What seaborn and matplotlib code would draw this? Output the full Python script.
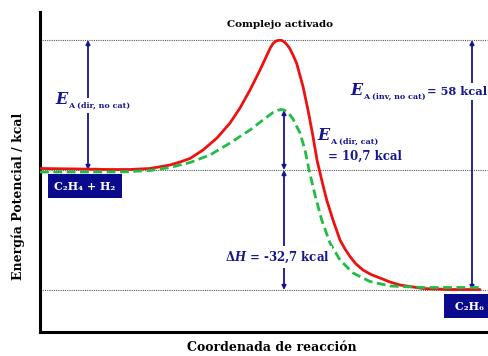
import numpy as np
import pandas as pd
import matplotlib
matplotlib.use("Agg")
import matplotlib.pyplot as plt
import seaborn as sns

# --- data (reaction coordinate, potential energy; drawing units) ---
red_x = [0, 40, 70, 90, 110, 130, 140, 150, 163, 177, 190, 200, 210, 220, 227, 230, 233, 236, 239, 242,
         245, 248, 250, 253, 256.7, 263, 268, 273, 277, 281.7, 286.7, 293, 300, 305, 310, 316, 323, 331,
         340, 350, 360, 383, 410, 440]
red_y = [0.3, 0.2, 0.1, 0.1, 0.3, 1.0, 1.6, 2.3, 4.0, 6.4, 9.4, 12.4, 16.0, 20.0, 23.0, 24.3, 25.3, 25.8, 25.95, 25.9,
         25.5, 24.8, 24.2, 23.0, 21.3, 16.7, 12.0, 6.7, 2.0, -2.0, -6.0, -10.0, -14.0, -15.8, -17.3, -18.8, -20.0, -20.9,
         -21.6, -22.4, -23.0, -23.7, -23.9, -23.9]
green_x = [0, 40, 70, 90, 110, 130, 150, 170, 190, 210, 223, 233, 238, 241, 244, 247, 250, 253, 256, 260,
           265, 269, 275, 281.7, 290, 300, 313, 330, 350, 383, 410, 440]
green_y = [-0.4, -0.4, -0.4, -0.3, -0.1, 0.5, 1.5, 3.0, 5.4, 8.0, 10.0, 11.5, 11.95, 12.1, 12.0, 11.6, 11.0, 10.2, 9.0, 7.4,
           4.0, 0.0, -5.0, -10.0, -14.6, -18.0, -20.6, -22.3, -23.2, -23.5, -23.5, -23.5]
levels = [26, 0, -24]          # activated complex, reactants, products
ea_dir_nocat = (48, 0, 26)
ea_dir_cat = (244, 0, 12)
dh = (244, 0, -24)
ea_inv_nocat = (432, 26, -24)

sns.set_theme(style="white")
plt.rcParams['font.family'] = ['DejaVu Serif']
plt.rcParams['font.weight'] = 'bold'
plt.rcParams['mathtext.fontset'] = 'custom'
plt.rcParams['mathtext.rm'] = 'DejaVu Serif:bold'
plt.rcParams['mathtext.it'] = 'DejaVu Serif:italic:bold'
plt.rcParams['mathtext.bf'] = 'DejaVu Serif:bold'

fig = plt.figure(figsize=(4.88, 3.56), dpi=100)
ax = fig.add_axes([40/488, 24/356, 448/488, 320/356])

df_red = pd.DataFrame({"x": red_x, "y": red_y})
df_green = pd.DataFrame({"x": green_x, "y": green_y})

for lv in levels:
    ax.plot([0, 447], [lv, lv], color="#4f5f4f", lw=0.8, ls=(0, (1, 1)), zorder=1)

sns.lineplot(data=df_red, x="x", y="y", ax=ax, color="#ee1111", lw=2.0, sort=False, zorder=4)
sns.lineplot(data=df_green, x="x", y="y", ax=ax, color="#22bb44", lw=2.0, sort=False, zorder=5)
ax.lines[-2].set_solid_joinstyle("round")
ax.lines[-1].set_linestyle((0, (3.2, 1.6)))
ax.lines[-1].set_dash_joinstyle("round")

blue = "#16168f"
arrow_kw = dict(arrowstyle="<|-|>", color=blue, lw=1.3, mutation_scale=6, shrinkA=0, shrinkB=0)
for (xa, y0, y1) in [ea_dir_nocat, ea_dir_cat, dh, ea_inv_nocat]:
    ax.annotate("", xy=(xa, y1), xytext=(xa, y0), arrowprops=arrow_kw, zorder=3)


def ea_label(x, y, sub, suffix=None, box=True):
    layers = [("white", dict(facecolor="white", edgecolor="none", pad=2.5), 5.5), (blue, None, 7)] if box \
        else [(blue, None, 7)]
    for col, bb, z in layers:
        t1 = ax.text(x, y, "E", fontsize=11.5, fontstyle="italic", fontweight="bold", color=col,
                     ha="left", va="baseline", bbox=bb, zorder=z)
        t2 = ax.annotate(sub, xy=(1, 0), xycoords=t1, xytext=(0.5, -1.0), textcoords="offset points",
                         fontsize=5.8, fontweight="bold", color=col, ha="left", va="bottom",
                         bbox=bb, zorder=z)
        if suffix:
            ax.annotate(suffix, xy=(1, 0), xycoords=(t2, t1), xytext=(1.0, 1.5),
                        textcoords="offset points", fontsize=8.2, fontweight="bold", color=col,
                        ha="left", va="bottom", bbox=bb, zorder=z)


ea_label(15, 13.2, "A (dir, no cat)")
ea_label(310, 15.0, "A (inv, no cat)", "= 58 kcal")
ea_label(277, 6.0, "A (dir, cat)", box=False)
ax.text(288, 2.0, "= 10,7 kcal", color=blue, fontsize=8.5, ha="left", va="baseline", zorder=6)
ax.text(237, -17.4, r"$\Delta\mathit{H}$" + " = -32,7 kcal", color=blue, fontsize=8.5,
        ha="center", va="center", bbox=dict(facecolor="white", edgecolor="none", pad=2), zorder=6)
ax.text(240, 29.2, "Complejo activado", color="black", fontsize=7.5, ha="center", va="center",
        bbox=dict(facecolor="white", edgecolor="none", pad=1), zorder=6)

navy = "#0a0a8c"
ax.text(45, -3.2, "C₂H₄ + H₂", color="white", fontsize=8, ha="center", va="center", zorder=7,
        bbox=dict(boxstyle="square,pad=0.6", facecolor=navy, edgecolor="none"))
ax.text(429, -27.2, " C₂H₆ ", color="white", fontsize=8, ha="center", va="center", zorder=7,
        bbox=dict(boxstyle="square,pad=0.6", facecolor=navy, edgecolor="none"), clip_on=False)

ax.set_xlim(0, 448)
ax.set_ylim(-32.4, 31.6)
ax.set_xticks([])
ax.set_yticks([])
for s in ["top", "right"]:
    ax.spines[s].set_visible(False)
for s in ["left", "bottom"]:
    ax.spines[s].set_color("black")
    ax.spines[s].set_linewidth(2.2)

ax.set_xlabel("Coordenada de reacción", fontsize=9, fontweight="bold", color="black")
ax.set_ylabel("Energía Potencial / kcal", fontsize=9, fontweight="bold", color="black")
ax.xaxis.set_label_coords(0.518, -0.047)
ax.yaxis.set_label_coords(-0.049, 0.425)
ax.xaxis.label.set_va("center")
ax.yaxis.label.set_va("center")

fig.savefig("out.png", dpi=100)
